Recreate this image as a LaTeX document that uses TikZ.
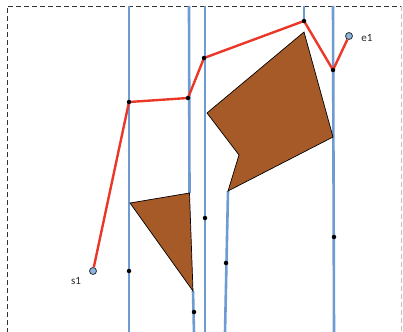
\documentclass[tikz,border=0pt]{standalone}
\usepackage{fontspec}
\setmainfont{Carlito}
\begin{document}
\begin{tikzpicture}[x=1pt,y=-1pt,
  cellline/.style={draw=blueline,line width=2.6pt},
  obstacle/.style={fill=brownfill,draw=black,line width=0.7pt,line join=miter},
  pathline/.style={draw=redline,line width=2.4pt,line join=round},
  vdot/.style={circle,fill=black,inner sep=0pt,minimum size=4.5pt},
  endpt/.style={circle,fill=endblue,draw=black!80,line width=0.8pt,inner sep=0pt,minimum size=7pt},
  lbl/.style={font=\fontsize{11}{13}\selectfont,text=black!85},
  border/.style={dash pattern=on 5pt off 3pt,line width=0.8pt}]
\definecolor{blueline}{RGB}{110,155,210}
\definecolor{brownfill}{RGB}{166,90,40}
\definecolor{redline}{RGB}{235,55,40}
\definecolor{endblue}{RGB}{140,180,225}
\useasboundingbox (0,0) rectangle (403,331);
% border
\draw[border,black!80] (7,333) -- (7,6) -- (401,6);
\draw[border,black!25] (401,6) -- (401,333);
% cell lines
\coordinate (l1t) at (129,6);   \coordinate (l1b) at (129,333);
\coordinate (l2t) at (189,6);   \coordinate (l2m) at (189.5,193);
\coordinate (l2n) at (193,291); \coordinate (l2b) at (194,333);
\coordinate (l3t) at (205,6);   \coordinate (l3b) at (205,333);
\coordinate (l4t) at (228,191); \coordinate (l4b) at (225,333);
\coordinate (l5t) at (333,6);   \coordinate (l5b) at (334,333);
\coordinate (l6t) at (304,6);   \coordinate (l6b) at (304,21);
\draw[cellline] (l1t) -- (l1b);
\draw[cellline] (l2t) -- (l2m);
\draw[cellline] (l2n) -- (l2b);
\draw[cellline] (l3t) -- (l3b);
\draw[cellline] (l4t) -- (l4b);
\draw[cellline] (l5t) -- (l5b);
\draw[cellline] (l6t) -- (l6b);
% obstacles
\draw[obstacle] (130,203) -- (189.5,193) -- (193,291) -- cycle;
\draw[obstacle] (207,113) -- (239,155) -- (228,191) -- (333,137) -- (304,32) -- cycle;
% path
\node[endpt] (s1) at (93,271) {};
\node[endpt] (e1) at (349,36) {};
\coordinate (p1) at (129,102);
\coordinate (p2) at (188,98);
\coordinate (p3) at (204,58);
\coordinate (p4) at (304,21);
\coordinate (p5) at (333,70);
\draw[pathline] (s1) -- (p1) -- (p2) -- (p3) -- (p4) -- (p5) -- (e1);
\node[vdot] (q1) at (p1) {};
\node[vdot] (q2) at (p2) {};
\node[vdot] (q3) at (p3) {};
\node[vdot] (q4) at (p4) {};
\node[vdot] (q5) at (p5) {};
% other dots
\node[vdot] (d1) at (129,271) {};
\node[vdot] (d2) at (194,312) {};
\node[vdot] (d3) at (205,218) {};
\node[vdot] (d4) at (226,263) {};
\node[vdot] (d5) at (334,237) {};
% labels
\node[lbl] (s1l) at (76,281) {s1};
\node[lbl] (e1l) at (367,38) {e1};
\end{tikzpicture}
\end{document}
